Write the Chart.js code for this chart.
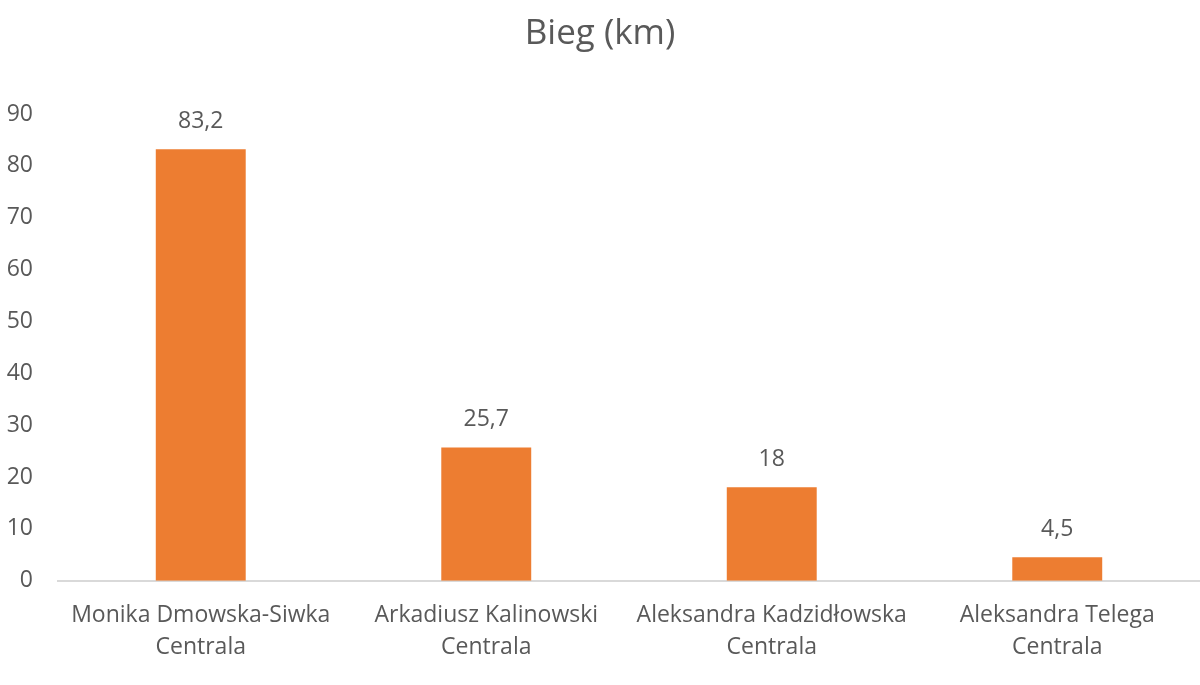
<!DOCTYPE html>
<html>
<head>
<meta charset="utf-8">
<script src="https://cdn.jsdelivr.net/npm/chart.js@4"></script>
<style>
  html, body { margin: 0; padding: 0; background: #fff; }
  #wrap { width: 1200px; height: 685px; }
</style>
</head>
<body>
<div id="wrap"><canvas id="wykres" width="1200" height="685"></canvas></div>
<script>
const kategorie = [
    ['Monika Dmowska-Siwka', 'Centrala'],
    ['Arkadiusz Kalinowski', 'Centrala'],
    ['Aleksandra Kadzidłowska', 'Centrala'],
    ['Aleksandra Telega', 'Centrala']
];
const bieg = [83.2, 25.7, 18, 4.5];
const tytul = 'Bieg (km)';

const kolorTekstu = '#595959';
const czcionka = '"Open Sans", Lato, sans-serif';

// etykiety z wartosciami nad slupkami
const etykietyWartosci = {
    id: 'etykietyWartosci',
    afterDatasetsDraw(chart) {
        const ctx = chart.ctx;
        ctx.save();
        ctx.font = '23px ' + czcionka;
        ctx.fillStyle = kolorTekstu;
        ctx.textAlign = 'center';
        ctx.textBaseline = 'alphabetic';
        chart.getDatasetMeta(0).data.forEach((bar, i) => {
            const txt = String(bieg[i]).replace('.', ',');
            ctx.fillText(txt, bar.x, bar.y - 21);
        });
        ctx.restore();
    }
};

document.addEventListener('DOMContentLoaded', function() {
    const ctx = document.getElementById('wykres').getContext('2d');
    new Chart(ctx, {
        type: 'bar',
        data: {
            labels: kategorie,
            datasets: [{
                label: tytul,
                data: bieg,
                backgroundColor: '#ED7D31',
                borderWidth: 0,
                barPercentage: 0.315,
                categoryPercentage: 1
            }]
        },
        options: {
            responsive: false,
            animation: false,
            layout: { padding: { left: 0, right: 0, top: 0, bottom: 3 } },
            plugins: {
                legend: { display: false },
                tooltip: { enabled: false },
                title: {
                    display: true,
                    text: tytul,
                    color: kolorTekstu,
                    font: { family: czcionka, size: 35, weight: 'normal' },
                    padding: { top: 13, bottom: 59 }
                }
            },
            scales: {
                x: {
                    grid: { display: false, drawTicks: false },
                    border: { display: true, color: '#D9D9D9', width: 2 },
                    ticks: {
                        color: kolorTekstu,
                        font: { family: czcionka, size: 23, lineHeight: 1.42 },
                        padding: 18,
                        maxRotation: 0,
                        autoSkip: false
                    }
                },
                y: {
                    min: 0,
                    max: 90,
                    grid: { display: false, drawTicks: false },
                    border: { display: false },
                    ticks: {
                        stepSize: 10,
                        color: kolorTekstu,
                        font: { family: czcionka, size: 23 },
                        padding: 25
                    },
                    afterFit(scale) { scale.width = 58; }
                }
            }
        },
        plugins: [etykietyWartosci]
    });
});
</script>
</body>
</html>
